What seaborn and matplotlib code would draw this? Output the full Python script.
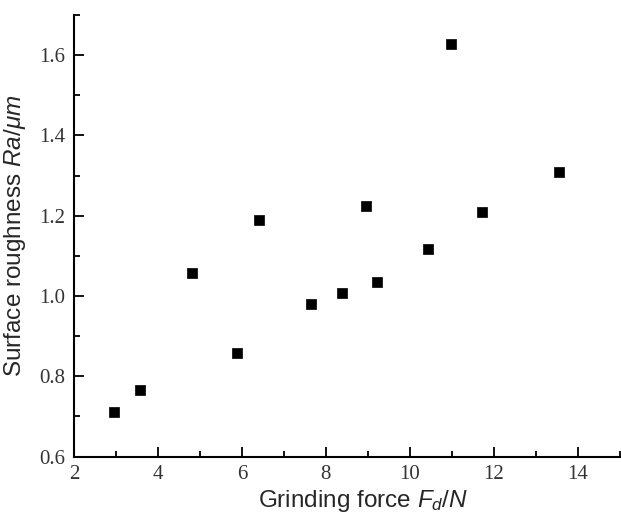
import numpy as np
import pandas as pd
import matplotlib
matplotlib.use("Agg")
import matplotlib.pyplot as plt
import matplotlib.ticker as mticker
import seaborn as sns

# data
grinding_force = [2.95, 3.57, 4.82, 5.89, 6.41, 7.64, 8.38, 8.95, 9.21, 10.44, 10.99, 11.72, 13.55]
roughness = [0.711, 0.766, 1.058, 0.858, 1.189, 0.981, 1.007, 1.224, 1.035, 1.118, 1.627, 1.209, 1.309]

df = pd.DataFrame({"force": grinding_force, "ra": roughness})

sns.set_style("white", {"xtick.direction": "in", "ytick.direction": "in"})
plt.rcParams["xtick.direction"] = "in"
plt.rcParams["ytick.direction"] = "in"
plt.rcParams["mathtext.fontset"] = "custom"
plt.rcParams["mathtext.it"] = "Liberation Sans:italic"
plt.rcParams["mathtext.rm"] = "Liberation Sans"

fig = plt.figure(figsize=(6.21, 5.2), dpi=100)
ax = fig.add_axes([0.119, 0.122, 0.879, 0.849])

sns.scatterplot(data=df, x="force", y="ra", marker="s", s=60, color="black",
                edgecolor="black", linewidth=0.5, ax=ax, legend=False)

ax.set_xlim(2, 15)
ax.set_ylim(0.6, 1.7)
ax.xaxis.set_major_locator(mticker.MultipleLocator(2))
ax.xaxis.set_minor_locator(mticker.MultipleLocator(1))
ax.yaxis.set_major_locator(mticker.MultipleLocator(0.2))
ax.yaxis.set_minor_locator(mticker.MultipleLocator(0.1))
ax.yaxis.set_major_formatter(mticker.FormatStrFormatter("%.1f"))

for s in ["top", "right"]:
    ax.spines[s].set_visible(False)
for s in ["left", "bottom"]:
    ax.spines[s].set_linewidth(1.5)
    ax.spines[s].set_color("black")

ax.tick_params(which="both", direction="in", left=True, bottom=True, colors="black")
ax.tick_params(which="major", length=7, width=1.3, labelsize=15, pad=6)
ax.tick_params(which="minor", length=4, width=1.3)
for lab in ax.get_xticklabels() + ax.get_yticklabels():
    lab.set_family("Liberation Serif")
    lab.set_color("#333333")

ax.set_xlabel(r"Grinding force $F_d/N$", fontsize=17.5, family="Liberation Sans")
ax.set_ylabel(r"Surface roughness $Ra/\mu m$", fontsize=17.5, family="Liberation Sans", labelpad=8)
ax.xaxis.set_label_coords(0.53, -0.072)

fig.savefig("out.png", dpi=100)
